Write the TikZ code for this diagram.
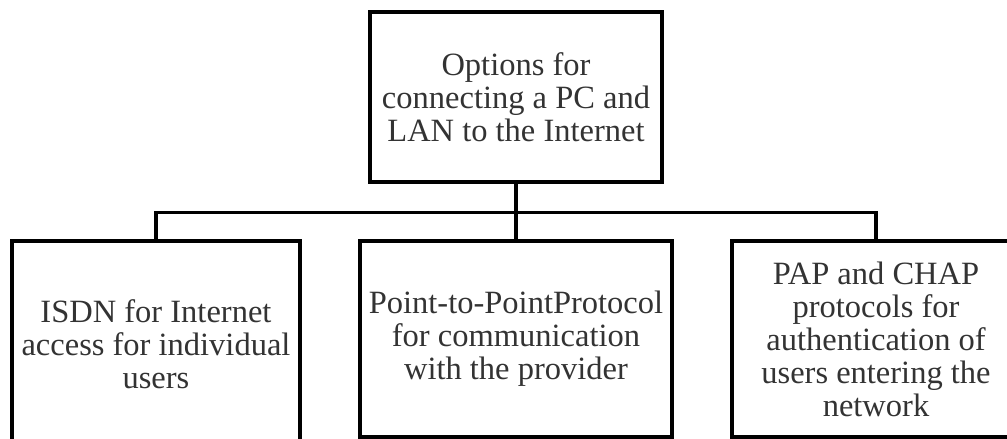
\documentclass[tikz,border=0pt]{standalone}
\usepackage{fontspec}
\setmainfont{Liberation Serif}
\usepackage{tikz}
\usetikzlibrary{positioning,calc}
\definecolor{boxtext}{HTML}{333333}
\newcommand{\optbox}[5][]{\node[optnode,minimum width=#3,#1] (#2) at #4 {#5};}

\begin{document}
\begin{tikzpicture}[x=1pt,y=1pt,line width=3.4pt,
  optnode/.style={draw,rectangle,align=center,inner sep=1pt,text=boxtext,
    font=\fontsize{32.5}{33}\selectfont,minimum height=196pt}]
\useasboundingbox (0,0) rectangle (1007,-439);
\clip (0,0) rectangle (1007,-439);
\optbox[minimum height=170pt]{top}{292pt}{(516,-97)}{Options for\\connecting a PC and\\LAN to the Internet}
\optbox[minimum height=206pt]{isdn}{288pt}{(156,-344)}{ISDN for Internet\\access for individual\\users}
\optbox{ppp}{312pt}{(516,-339)}{Point-to-PointProtocol\\for communication\\with the provider}
\optbox{pap}{288pt}{(876,-339)}{PAP and CHAP\\protocols for\\authentication of\\users entering the\\network}
\coordinate (bus) at ($(top.south)+(0,-29)$);
\draw (top.south) -- (bus);
\draw (bus) -| (isdn.north);
\draw (bus) -- (ppp.north);
\draw (bus) -| (pap.north);
\end{tikzpicture}
\end{document}
